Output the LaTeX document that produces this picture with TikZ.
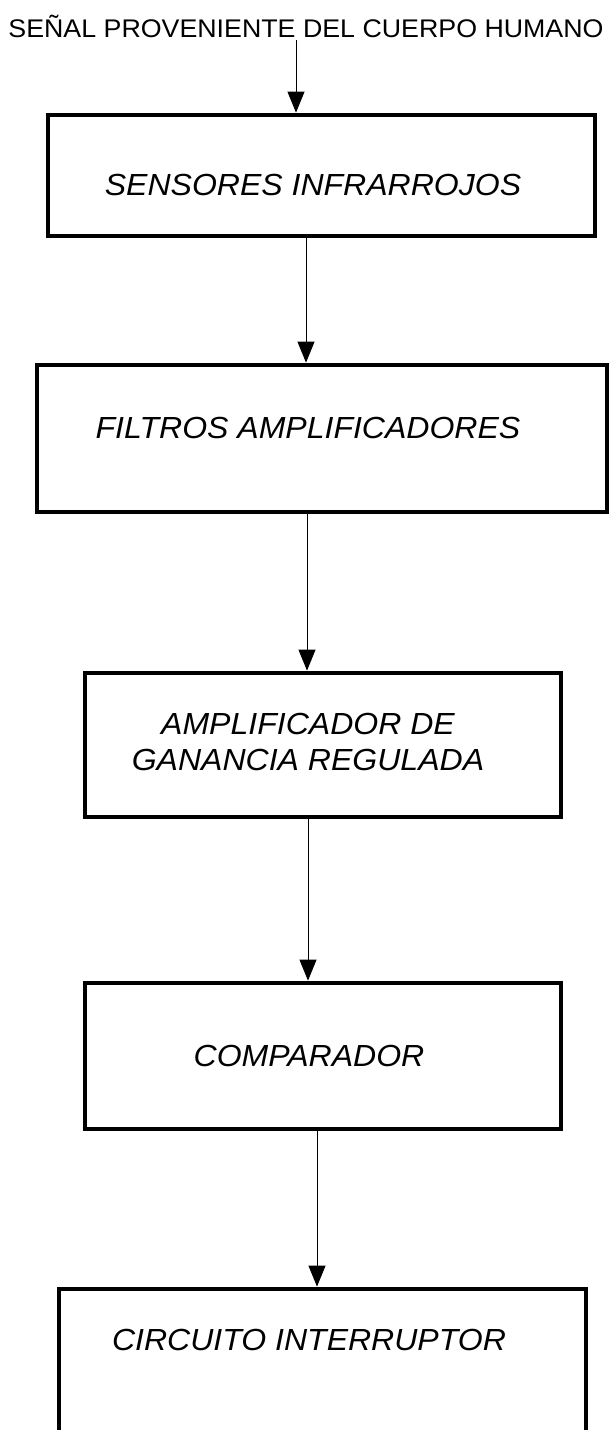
\documentclass[tikz,border=0pt]{standalone}
\usepackage{fontspec}
\setmainfont{Liberation Sans}[FakeStretch=1.05]
\usetikzlibrary{arrows.meta,calc}

\begin{document}
\begin{tikzpicture}[x=1pt, y=-1pt,
    caja/.style={draw, line width=4.8pt, inner sep=0pt},
    rotulo/.style={font=\fontsize{30.5}{36}\selectfont\itshape, align=center, inner sep=0pt},
    flecha/.style={line width=0.9pt, -{Triangle[width=17pt,length=21pt]}}]

  \useasboundingbox (0,0) rectangle (611,1430);
  \clip (0,0) rectangle (611,1430);

  % entrada
  \node[font=\fontsize{25.5}{30}\selectfont, inner sep=0pt, anchor=base] (senal) at (306,37)
    {SEÑAL PROVENIENTE DEL CUERPO HUMANO};

  % bloques
  \node[caja, minimum width=547pt, minimum height=121pt] (sensores) at (321.5,175.5) {};
  \node[caja, minimum width=570pt, minimum height=147pt] (filtros) at (322,438.5) {};
  \node[caja, minimum width=476pt, minimum height=144pt] (amplif) at (323,745) {};
  \node[caja, minimum width=476pt, minimum height=146pt] (compar) at (323,1056) {};
  \node[caja, minimum width=527pt, minimum height=200pt] (interr) at (322.5,1389) {};

  % textos
  \node[rotulo, anchor=base] (t1) at (313,195) {SENSORES INFRARROJOS};
  \node[rotulo, anchor=base] (t2) at (308,438) {FILTROS AMPLIFICADORES};
  \node[rotulo] (t3) at (308,742) {AMPLIFICADOR DE\\GANANCIA REGULADA};
  \node[rotulo, anchor=base] (t4) at (309,1066) {COMPARADOR};
  \node[rotulo, anchor=base] (t5) at (309,1350) {CIRCUITO INTERRUPTOR};

  % conexiones
  \coordinate (c1) at ($(senal.south)+(-10,3)$);
  \coordinate (c2) at ($(sensores.south)+(-15.5,0)$);
  \coordinate (c3) at ($(filtros.south)+(-15,0)$);
  \coordinate (c4) at ($(amplif.south)+(-15,0)$);
  \coordinate (c5) at ($(compar.south)+(-6,0)$);
  \draw[flecha] (c1) -- (c1 |- sensores.north);
  \draw[flecha] (c2) -- (c2 |- filtros.north);
  \draw[flecha] (c3) -- (c3 |- amplif.north);
  \draw[flecha] (c4) -- (c4 |- compar.north);
  \draw[flecha] (c5) -- (c5 |- interr.north);
\end{tikzpicture}
\end{document}
